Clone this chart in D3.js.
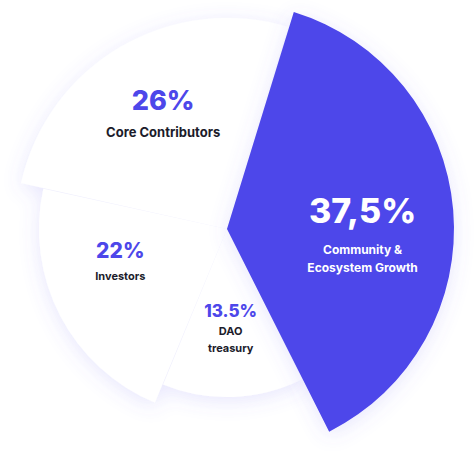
<!DOCTYPE html>
<html>
<head>
<meta charset="utf-8">
<script src="https://cdn.jsdelivr.net/npm/d3@7"></script>
<style>
  html, body { margin: 0; background: #fff; }
  svg { display: block; font-family: Inter, 'Open Sans', sans-serif; }
</style>
</head>
<body>
<svg id="chart" width="475" height="457"></svg>
<script>
// shares in percent, clockwise from the blue slice
const categories = ['Community & Ecosystem Growth', 'DAO treasury', 'Investors', 'Core Contributors'];
const shares = [37.5, 13.5, 22, 26];
const shareLabels = ['37,5%', '13.5%', '22%', '26%'];
const nameLines = [['Community &', 'Ecosystem Growth'], ['DAO', 'treasury'], ['Investors'], ['Core Contributors']];
const outerRadii = [227, 168, 188, 211];

const blue = '#4d47ea';
const cx = 227, cy = 229;
const svg = d3.select('#chart');

const defs = svg.append('defs');
const f = defs.append('filter').attr('id', 'glow')
  .attr('x', '-30%').attr('y', '-30%').attr('width', '160%').attr('height', '160%');
f.append('feDropShadow').attr('dx', 0).attr('dy', 4).attr('stdDeviation', 10)
  .attr('flood-color', '#6a64f0').attr('flood-opacity', 0.16);

const data = categories.map((c, i) => ({ name: c, value: shares[i], i }));
const pie = d3.pie().sort(null).value(d => d.value)
  .startAngle(17 * Math.PI / 180).endAngle(17 * Math.PI / 180 + 2 * Math.PI);
const arcs = pie(data);

const arc = d => d3.arc().innerRadius(0).outerRadius(outerRadii[d.data.i]).padAngle(0.004)(d);

const g = svg.append('g').attr('transform', `translate(${cx},${cy})`);
const gWhite = g.append('g').attr('filter', 'url(#glow)');
gWhite.selectAll('path').data(arcs.filter(d => d.data.i !== 0)).join('path')
  .attr('d', arc).attr('fill', '#fff');
g.append('path').datum(arcs[0]).attr('d', arc).attr('fill', blue).attr('filter', 'url(#glow)');

const big = [34, 17, 21, 27];
const small = [12, 11, 11, 13];
arcs.forEach(d => {
  const i = d.data.i;
  const r = outerRadii[i] * 0.6;
  const a = (d.startAngle + d.endAngle) / 2 + (i === 0 ? 0.18 : i === 2 ? 0.15 : 0);
  const x = Math.sin(a) * r, y = -Math.cos(a) * r;
  const t = g.append('g').attr('transform', `translate(${x},${y})`).attr('text-anchor', 'middle');
  const lines = nameLines[i];
  const topOff = -(big[i] * 0.35 + (lines.length - 1) * small[i] * 0.6);
  t.append('text').attr('y', topOff).attr('font-size', big[i]).attr('font-weight', 800)
    .attr('fill', i === 0 ? '#fff' : blue).text(shareLabels[i]);
  lines.forEach((ln, k) => {
    t.append('text').attr('y', topOff + big[i] * 0.75 + small[i] * 0.5 + k * small[i] * 1.5)
      .attr('font-size', small[i]).attr('font-weight', 700)
      .attr('fill', i === 0 ? '#fff' : '#1c1c2b').text(ln);
  });
});
</script>
</body>
</html>
